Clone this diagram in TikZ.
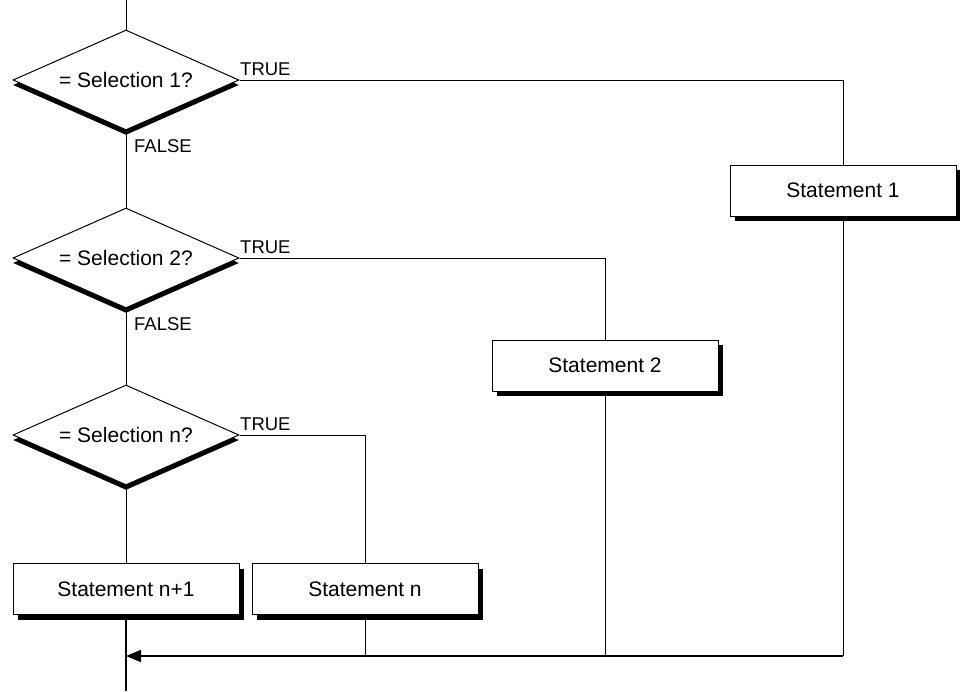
\documentclass[tikz,border=0pt]{standalone}
\usepackage{fontspec}
\setmainfont{Liberation Sans}
\usetikzlibrary{shapes.geometric}
\usetikzlibrary{shadows}
\usetikzlibrary{arrows.meta}

\begin{document}
\begin{tikzpicture}[x=1pt,y=-1pt,
    choice/.style={diamond,draw,line width=1pt,fill=white,aspect=2.26,inner sep=0pt,
        minimum width=226pt,minimum height=100pt,font=\fontsize{21}{25}\selectfont,
        drop shadow={shadow xshift=0pt,shadow yshift=-5pt,opacity=1,fill=black}},
    stmt/.style={rectangle,draw,line width=1pt,fill=white,minimum width=226pt,
        minimum height=51pt,font=\fontsize{21}{25}\selectfont,
        drop shadow={shadow xshift=5pt,shadow yshift=-5pt,opacity=1,fill=black}},
    lbl/.style={inner sep=0pt,anchor=base west,font=\fontsize{18.5}{22}\selectfont},
    flow/.style={line width=1pt},
    back/.style={line width=2pt}]
    \useasboundingbox (0,0) rectangle (960,691);
    \coordinate (start) at (126,0);
    \coordinate (merge) at (126,656);
    \coordinate (finish) at (126,691);
    \node[choice] (sel1) at (126,80) {= Selection 1?};
    \node[choice] (sel2) at (126,258) {= Selection 2?};
    \node[choice] (seln) at (126,435) {= Selection n?};
    \node[stmt] (st1) at (843,190.5) {Statement 1};
    \node[stmt] (st2) at (605,365.5) {Statement 2};
    \node[stmt] (stn) at (365,589) {Statement n};
    \node[stmt] (stn1) at (126,589) {Statement n+1};
    \node[lbl] (t1) at (240,75) {TRUE};
    \node[lbl] (t2) at (240,253) {TRUE};
    \node[lbl] (t3) at (240,430) {TRUE};
    \node[lbl] (f1) at (134,152) {FALSE};
    \node[lbl] (f2) at (134,330) {FALSE};
    \draw[flow] (start) -- (sel1.north);
    \draw[flow] (sel1.east) -| (st1.north);
    \draw[flow] (sel1.south) -- (sel2.north);
    \draw[flow] (sel2.east) -| (st2.north);
    \draw[flow] (sel2.south) -- (seln.north);
    \draw[flow] (seln.east) -| (stn.north);
    \draw[flow] (seln.south) -- (stn1.north);
    \draw[flow] (st1.south) -- (st1.south |- merge);
    \draw[flow] (st2.south) -- (st2.south |- merge);
    \draw[flow] (stn.south) -- (stn.south |- merge);
    \draw[back,-{Triangle[length=15pt,width=12pt]}] (st1.south |- merge) -- (merge);
    \draw[back] (stn1.south) -- (finish);
\end{tikzpicture}
\end{document}
